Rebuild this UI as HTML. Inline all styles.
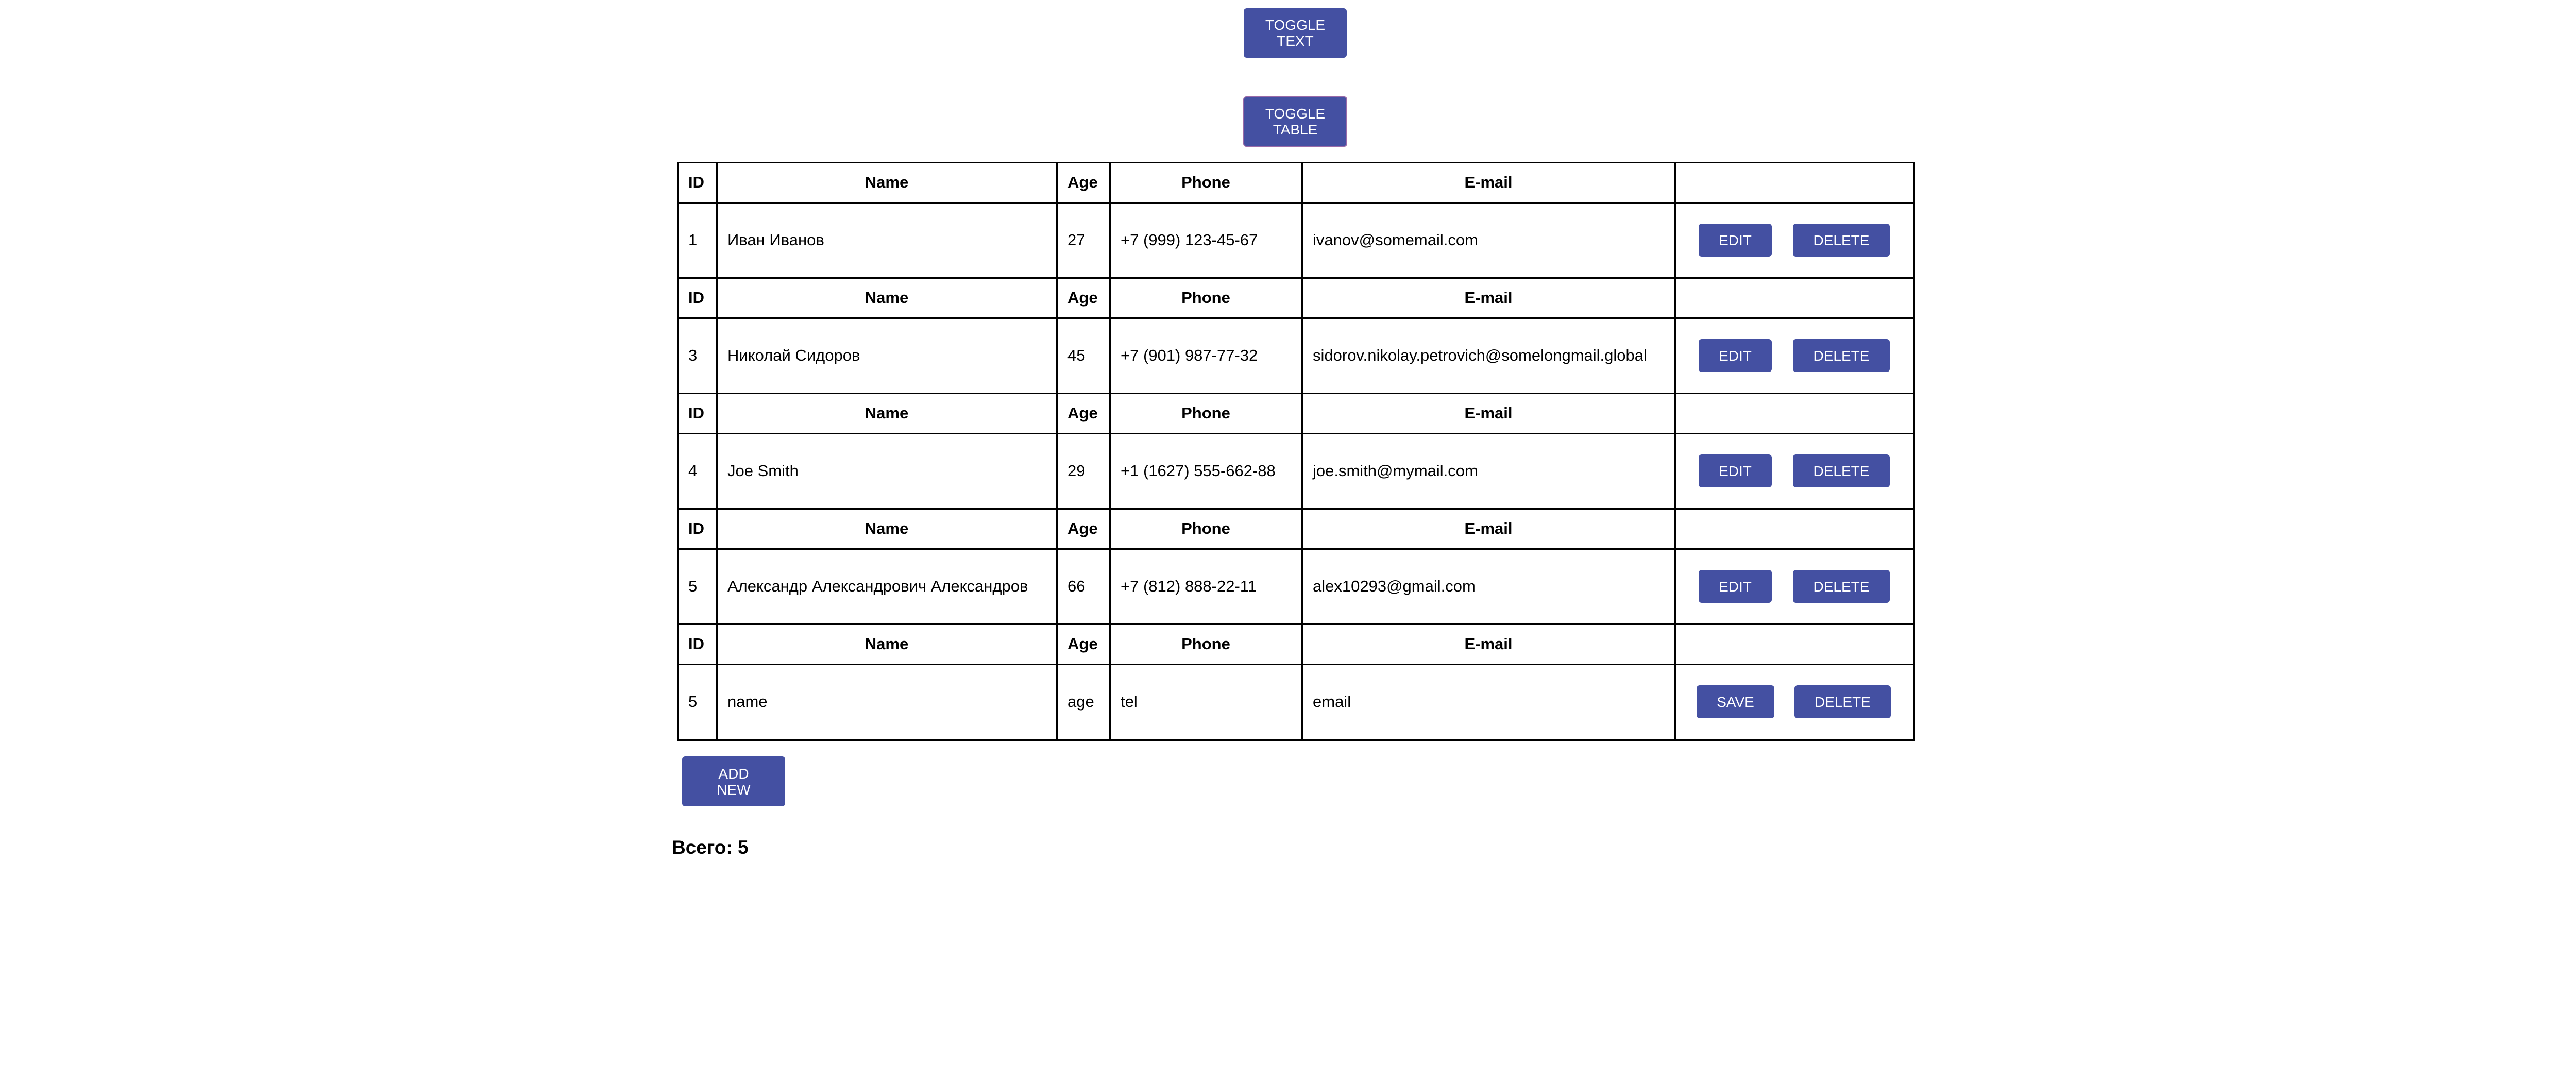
<!DOCTYPE html>
<html><head><meta charset="utf-8">
<style>
html,body{margin:0;padding:0}
body{width:5062px;height:2096px;background:#fff;position:relative;overflow:hidden;font-family:"Liberation Sans","DejaVu Sans",sans-serif;color:#000}
.btn{position:absolute;background:#4450a2;color:#fff;border-radius:6px;font-size:28px;display:flex;align-items:center;justify-content:center;text-align:center;line-height:31px}
.hl{position:absolute;left:1314px;width:2403px;height:3px;background:#000}
.vl{position:absolute;top:314px;height:1124px;width:3px;background:#000}
.c{position:absolute;display:flex;align-items:center;font-size:31px;white-space:nowrap}
.h{font-weight:bold;justify-content:center}
</style></head><body>
<div class="btn" style="left:2414px;top:16px;width:200px;height:96px">TOGGLE<br>TEXT</div>
<div class="btn" style="left:2413px;top:187px;width:202px;height:98px;border:2px solid #9a6aa8;box-sizing:border-box">TOGGLE<br>TABLE</div>

<div class="vl" style="left:1314px"></div>
<div class="vl" style="left:1390px"></div>
<div class="vl" style="left:2050px"></div>
<div class="vl" style="left:2153px"></div>
<div class="vl" style="left:2526px"></div>
<div class="vl" style="left:3250px"></div>
<div class="vl" style="left:3714px"></div>

<div class="hl" style="top:314px"></div><div class="hl" style="top:392px"></div>
<div class="hl" style="top:538px"></div><div class="hl" style="top:616px"></div>
<div class="hl" style="top:762px"></div><div class="hl" style="top:840px"></div>
<div class="hl" style="top:986px"></div><div class="hl" style="top:1064px"></div>
<div class="hl" style="top:1210px"></div><div class="hl" style="top:1288px"></div>
<div class="hl" style="top:1435px"></div>

<!-- header rows -->
<div style="position:absolute;left:0;top:315px">
<div class="c h" style="left:1336px;top:0;height:78px;justify-content:flex-start">ID</div>
<div class="c h" style="left:1391px;width:660px;top:0;height:78px">Name</div>
<div class="c h" style="left:2072px;top:0;height:78px;justify-content:flex-start">Age</div>
<div class="c h" style="left:2154px;width:373px;top:0;height:78px">Phone</div>
<div class="c h" style="left:2527px;width:724px;top:0;height:78px">E-mail</div>
</div>
<div style="position:absolute;left:0;top:539px">
<div class="c h" style="left:1336px;top:0;height:78px;justify-content:flex-start">ID</div>
<div class="c h" style="left:1391px;width:660px;top:0;height:78px">Name</div>
<div class="c h" style="left:2072px;top:0;height:78px;justify-content:flex-start">Age</div>
<div class="c h" style="left:2154px;width:373px;top:0;height:78px">Phone</div>
<div class="c h" style="left:2527px;width:724px;top:0;height:78px">E-mail</div>
</div>
<div style="position:absolute;left:0;top:763px">
<div class="c h" style="left:1336px;top:0;height:78px;justify-content:flex-start">ID</div>
<div class="c h" style="left:1391px;width:660px;top:0;height:78px">Name</div>
<div class="c h" style="left:2072px;top:0;height:78px;justify-content:flex-start">Age</div>
<div class="c h" style="left:2154px;width:373px;top:0;height:78px">Phone</div>
<div class="c h" style="left:2527px;width:724px;top:0;height:78px">E-mail</div>
</div>
<div style="position:absolute;left:0;top:987px">
<div class="c h" style="left:1336px;top:0;height:78px;justify-content:flex-start">ID</div>
<div class="c h" style="left:1391px;width:660px;top:0;height:78px">Name</div>
<div class="c h" style="left:2072px;top:0;height:78px;justify-content:flex-start">Age</div>
<div class="c h" style="left:2154px;width:373px;top:0;height:78px">Phone</div>
<div class="c h" style="left:2527px;width:724px;top:0;height:78px">E-mail</div>
</div>
<div style="position:absolute;left:0;top:1211px">
<div class="c h" style="left:1336px;top:0;height:78px;justify-content:flex-start">ID</div>
<div class="c h" style="left:1391px;width:660px;top:0;height:78px">Name</div>
<div class="c h" style="left:2072px;top:0;height:78px;justify-content:flex-start">Age</div>
<div class="c h" style="left:2154px;width:373px;top:0;height:78px">Phone</div>
<div class="c h" style="left:2527px;width:724px;top:0;height:78px">E-mail</div>
</div>

<!-- data rows -->
<div style="position:absolute;left:0;top:393px">
<div class="c" style="left:1336px;top:0;height:146px">1</div>
<div class="c" style="left:1412px;top:0;height:146px">Иван Иванов</div>
<div class="c" style="left:2072px;top:0;height:146px">27</div>
<div class="c" style="left:2175px;top:0;height:146px">+7 (999) 123-45-67</div>
<div class="c" style="left:2548px;top:0;height:146px">ivanov@somemail.com</div>
<div class="btn" style="left:3297px;top:41px;width:142px;height:64px">EDIT</div>
<div class="btn" style="left:3480px;top:41px;width:188px;height:64px">DELETE</div>
</div>
<div style="position:absolute;left:0;top:617px">
<div class="c" style="left:1336px;top:0;height:146px">3</div>
<div class="c" style="left:1412px;top:0;height:146px">Николай Сидоров</div>
<div class="c" style="left:2072px;top:0;height:146px">45</div>
<div class="c" style="left:2175px;top:0;height:146px">+7 (901) 987-77-32</div>
<div class="c" style="left:2548px;top:0;height:146px">sidorov.nikolay.petrovich@somelongmail.global</div>
<div class="btn" style="left:3297px;top:41px;width:142px;height:64px">EDIT</div>
<div class="btn" style="left:3480px;top:41px;width:188px;height:64px">DELETE</div>
</div>
<div style="position:absolute;left:0;top:841px">
<div class="c" style="left:1336px;top:0;height:146px">4</div>
<div class="c" style="left:1412px;top:0;height:146px">Joe Smith</div>
<div class="c" style="left:2072px;top:0;height:146px">29</div>
<div class="c" style="left:2175px;top:0;height:146px">+1 (1627) 555-662-88</div>
<div class="c" style="left:2548px;top:0;height:146px">joe.smith@mymail.com</div>
<div class="btn" style="left:3297px;top:41px;width:142px;height:64px">EDIT</div>
<div class="btn" style="left:3480px;top:41px;width:188px;height:64px">DELETE</div>
</div>
<div style="position:absolute;left:0;top:1065px">
<div class="c" style="left:1336px;top:0;height:146px">5</div>
<div class="c" style="left:1412px;top:0;height:146px">Александр Александрович Александров</div>
<div class="c" style="left:2072px;top:0;height:146px">66</div>
<div class="c" style="left:2175px;top:0;height:146px">+7 (812) 888-22-11</div>
<div class="c" style="left:2548px;top:0;height:146px">alex10293@gmail.com</div>
<div class="btn" style="left:3297px;top:41px;width:142px;height:64px">EDIT</div>
<div class="btn" style="left:3480px;top:41px;width:188px;height:64px">DELETE</div>
</div>
<div style="position:absolute;left:0;top:1289px">
<div class="c" style="left:1336px;top:0;height:146px">5</div>
<div class="c" style="left:1412px;top:0;height:146px">name</div>
<div class="c" style="left:2072px;top:0;height:146px">age</div>
<div class="c" style="left:2175px;top:0;height:146px">tel</div>
<div class="c" style="left:2548px;top:0;height:146px">email</div>
<div class="btn" style="left:3293px;top:41px;width:151px;height:64px">SAVE</div>
<div class="btn" style="left:3483px;top:41px;width:187px;height:64px">DELETE</div>
</div>

<div class="btn" style="left:1324px;top:1468px;width:200px;height:97px">ADD<br>NEW</div>
<div style="position:absolute;left:1304px;top:1622px;font-size:37px;font-weight:bold;line-height:46px">Всего: 5</div>
</body></html>
